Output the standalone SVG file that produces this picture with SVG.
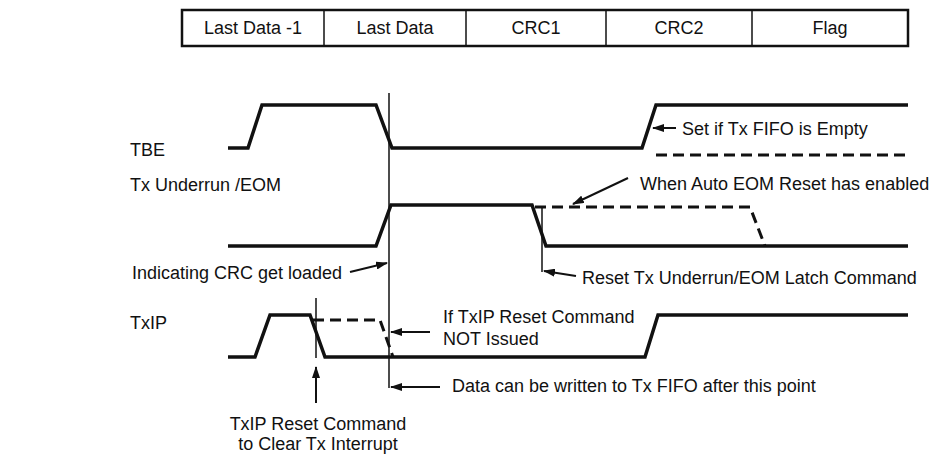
<svg xmlns="http://www.w3.org/2000/svg" width="939" height="454" viewBox="0 0 939 454">
<style>
text{font-family:"Liberation Sans",Arial,sans-serif;font-size:18px;fill:#111}
.c{text-anchor:middle}
.sig{fill:none;stroke:#111;stroke-width:3.5;stroke-linejoin:miter}
.dash{fill:none;stroke:#111;stroke-width:3;stroke-dasharray:11 6}
.thin{fill:none;stroke:#111;stroke-width:1.5}
.arr{fill:none;stroke:#111;stroke-width:2;marker-end:url(#ah)}
</style>
<defs>
<marker id="ah" viewBox="0 0 12 8" refX="11" refY="4" markerWidth="12" markerHeight="8" markerUnits="userSpaceOnUse" orient="auto">
<path d="M0,0 L12,4 L0,8 Z" fill="#111"/>
</marker>
</defs>
<rect width="939" height="454" fill="#fff"/>
<g id="frame">
<rect x="182" y="10" width="726" height="36" fill="none" stroke="#111" stroke-width="2.5"/>
<line class="thin" x1="324" y1="10" x2="324" y2="46"/>
<line class="thin" x1="466" y1="10" x2="466" y2="46"/>
<line class="thin" x1="606" y1="10" x2="606" y2="46"/>
<line class="thin" x1="752" y1="10" x2="752" y2="46"/>
<text class="c" x="253" y="34">Last Data -1</text>
<text class="c" x="395" y="34">Last Data</text>
<text class="c" x="536" y="34">CRC1</text>
<text class="c" x="679" y="34">CRC2</text>
<text class="c" x="830" y="34">Flag</text>
</g>
<g id="tbe">
<text x="130" y="156">TBE</text>
<path class="sig" d="M228,148 H248 L262,105 H376 L392,148 H642 L656,105 H908"/>
<path class="dash" d="M656,155 H908"/>
</g>
<g id="txu">
<text x="130" y="191">Tx Underrun /EOM</text>
<path class="sig" d="M228,246 H376 L391,205 H532 L546,246 H908"/>
<path class="dash" d="M535,207 H750 L765,246"/>
</g>
<g id="txip">
<text x="130" y="329">TxIP</text>
<path class="sig" d="M228,357 H255 L270,315 H310 L325,357 H645 L658,315 H908"/>
<path class="dash" d="M313,320 H380 L393,357"/>
</g>
<g id="connectors">
<line class="thin" x1="389" y1="93" x2="389" y2="388"/>
<line class="thin" x1="542" y1="207" x2="542" y2="272"/>
<line class="thin" x1="316" y1="298" x2="316" y2="358"/>
<line class="arr" x1="676" y1="128" x2="653" y2="128"/>
<line class="arr" x1="628" y1="178" x2="573" y2="204"/>
<line class="arr" x1="350" y1="272" x2="387" y2="263"/>
<line class="arr" x1="576" y1="276" x2="544" y2="271"/>
<line class="arr" x1="430" y1="332" x2="391" y2="332"/>
<line class="arr" x1="440" y1="387" x2="391" y2="387"/>
<line class="arr" x1="316" y1="403" x2="316" y2="367"/>
</g>
<g id="labels">
<text x="682" y="135">Set if Tx FIFO is Empty</text>
<text x="640" y="190">When Auto EOM Reset has enabled</text>
<text x="582" y="284">Reset Tx Underrun/EOM Latch Command</text>
<text x="132" y="279">Indicating CRC get loaded</text>
<text x="443" y="323">If TxIP Reset Command</text>
<text x="443" y="345">NOT Issued</text>
<text x="452" y="392">Data can be written to Tx FIFO after this point</text>
<text class="c" x="318" y="430">TxIP Reset Command</text>
<text class="c" x="318" y="450">to Clear Tx Interrupt</text>
</g>
</svg>
